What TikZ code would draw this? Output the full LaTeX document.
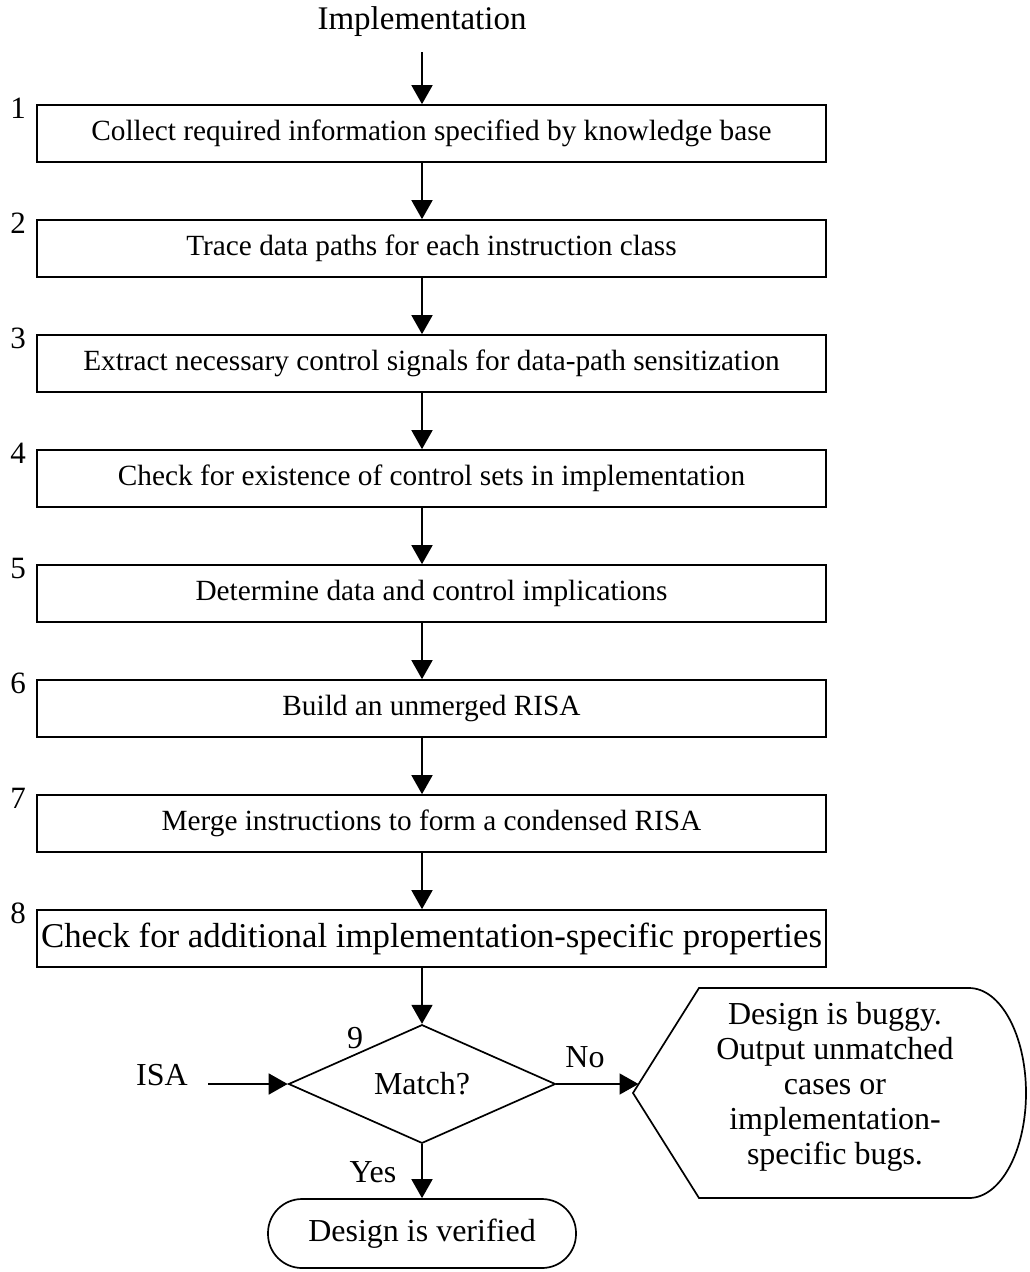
\documentclass[tikz,border=0pt]{standalone}
\usepackage{fontspec}
\setmainfont{Liberation Serif}
\usetikzlibrary{arrows.meta,shapes.geometric,calc}
\begin{document}
\begin{tikzpicture}[x=1pt,y=-1pt,
  line width=1.7pt,
  stepbox/.style={draw,minimum width=789pt,minimum height=57pt,inner sep=0pt,font=\fontsize{29.3}{34}\selectfont},
  lbl/.style={font=\fontsize{32}{35}\selectfont,inner sep=0pt},
  num/.style={font=\fontsize{31}{34}\selectfont,inner sep=0pt},
  arr/.style={-{Triangle[length=19pt,width=21pt]}},
]
\useasboundingbox (0,0) rectangle (1029,1272);
\coordinate (ax) at (422,0);

\node[lbl,font=\fontsize{33}{38}\selectfont] (impl) at (422,22) {Implementation};
\coordinate (implA) at (422,52);

\node[stepbox] (b1) at (431.5,133.5) {Collect required information specified by knowledge base};
\node[stepbox] (b2) at (431.5,248.5) {Trace data paths for each instruction class};
\node[stepbox] (b3) at (431.5,363.5) {Extract necessary control signals for data-path sensitization};
\node[stepbox] (b4) at (431.5,478.5) {Check for existence of control sets in implementation};
\node[stepbox] (b5) at (431.5,593.5) {Determine data and control implications};
\node[stepbox] (b6) at (431.5,708.5) {Build an unmerged RISA};
\node[stepbox] (b7) at (431.5,823.5) {Merge instructions to form a condensed RISA};
\node[stepbox,font=\fontsize{34.8}{38}\selectfont] (b8) at (431.5,938.5) {Check for additional implementation-specific properties};

\node[num] (n1) at (18,108) {1};
\node[num] (n2) at (18,223) {2};
\node[num] (n3) at (18,338) {3};
\node[num] (n4) at (18,453) {4};
\node[num] (n5) at (18,568) {5};
\node[num] (n6) at (18,683) {6};
\node[num] (n7) at (18,798) {7};
\node[num] (n8) at (18,913) {8};

\node[draw,diamond,minimum width=267pt,minimum height=115pt,inner sep=0pt,lbl] (match) at (422,1084) {Match?};
\node[lbl] (nine) at (355,1038) {9};
\node[lbl] (isa) at (162,1075) {ISA};
\coordinate (isaA) at (208,1084);
\node[lbl] (no) at (585,1057) {No};
\node[lbl] (yes) at (373,1172) {Yes};

\node[draw,rounded corners=34pt,minimum width=308pt,minimum height=69pt,lbl] (ver) at (422,1233.5) {Design is verified};

\draw (699,988) -- (969,988) .. controls (1000.5,988) and (1026,1035) .. (1026,1093)
  .. controls (1026,1151) and (1000.5,1198) .. (969,1198) -- (699,1198) -- (633,1093) -- cycle;
\coordinate (noEnd) at (638.5,1084);
\node[lbl,align=center] (bug) at (835,1087) {Design is buggy.\\Output unmatched\\cases or\\implementation-\\specific bugs.};

\draw[arr] (implA) -- (b1.north -| ax);
\draw[arr] (b1.south -| ax) -- (b2.north -| ax);
\draw[arr] (b2.south -| ax) -- (b3.north -| ax);
\draw[arr] (b3.south -| ax) -- (b4.north -| ax);
\draw[arr] (b4.south -| ax) -- (b5.north -| ax);
\draw[arr] (b5.south -| ax) -- (b6.north -| ax);
\draw[arr] (b6.south -| ax) -- (b7.north -| ax);
\draw[arr] (b7.south -| ax) -- (b8.north -| ax);
\draw[arr] (b8.south -| ax) -- (match.north);
\draw[arr] (match.south) -- (ver.north);
\draw[arr] (isaA) -- (match.west);
\draw[arr] (match.east) -- (noEnd);
\end{tikzpicture}
\end{document}
